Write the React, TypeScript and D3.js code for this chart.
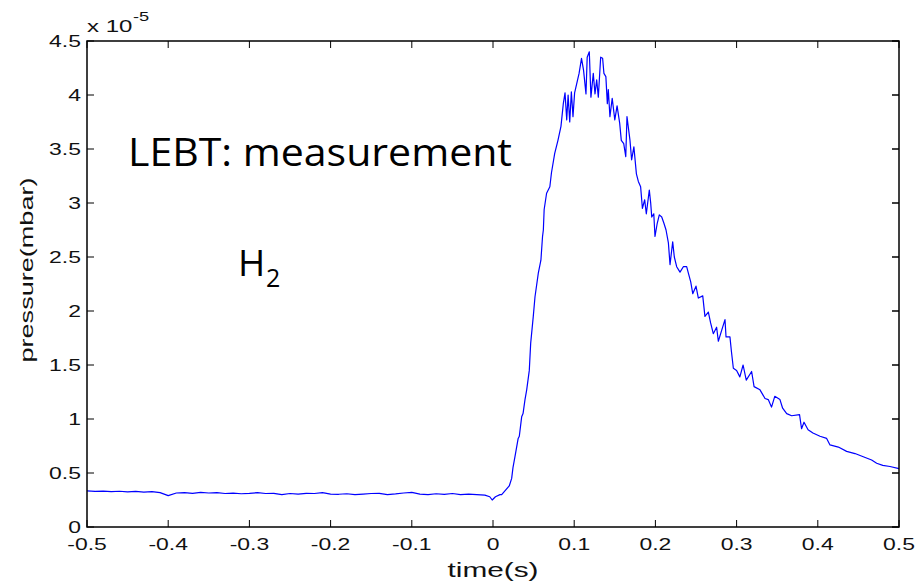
import React from "react";
import * as d3 from "d3";

// time (s) and pressure (x 1e-5 mbar)
const timeS: number[] = [
  -0.5, -0.49, -0.48, -0.47, -0.46, -0.45, -0.44, -0.43, -0.42, -0.41,
  -0.4, -0.39, -0.38, -0.37, -0.36, -0.35, -0.34, -0.33, -0.32, -0.31,
  -0.3, -0.29, -0.28, -0.27, -0.26, -0.25, -0.24, -0.23, -0.22, -0.21,
  -0.2, -0.19, -0.18, -0.17, -0.16, -0.15, -0.14, -0.13, -0.12, -0.11,
  -0.1, -0.09, -0.08, -0.07, -0.06, -0.05, -0.04, -0.03, -0.02, -0.01,
  -0.004, -0.001, 0.003, 0.0086, 0.0107, 0.02, 0.023, 0.0246, 0.027, 0.031,
  0.0324, 0.0353, 0.037, 0.0394, 0.0415, 0.0447, 0.0464, 0.0496, 0.0517, 0.0558,
  0.059, 0.061, 0.062, 0.063, 0.066, 0.07, 0.072, 0.076, 0.08, 0.0837,
  0.0866, 0.0887, 0.0908, 0.0925, 0.0945, 0.0965, 0.0985, 0.1005, 0.106, 0.109,
  0.1115, 0.1145, 0.116, 0.1186, 0.1206, 0.1235, 0.1256, 0.1277, 0.1297, 0.1326,
  0.135, 0.1366, 0.139, 0.1408, 0.142, 0.144, 0.1468, 0.15, 0.1528, 0.156,
  0.158, 0.161, 0.1635, 0.165, 0.1687, 0.1707, 0.1735, 0.1766, 0.179, 0.1818,
  0.184, 0.1868, 0.1888, 0.1925, 0.1942, 0.1955, 0.198, 0.1995, 0.2022, 0.2048,
  0.2078, 0.2106, 0.2131, 0.216, 0.218, 0.2213, 0.2233, 0.2262, 0.2303, 0.2344,
  0.2385, 0.2406, 0.2435, 0.246, 0.25, 0.2529, 0.2583, 0.261, 0.2652, 0.268,
  0.2713, 0.2754, 0.2775, 0.2816, 0.2857, 0.287, 0.2918, 0.2937, 0.296, 0.3,
  0.304, 0.308, 0.3119, 0.3185, 0.3215, 0.3288, 0.335, 0.339, 0.343, 0.347,
  0.3534, 0.3567, 0.3617, 0.3678, 0.3775, 0.38, 0.383, 0.388, 0.394, 0.4027,
  0.4109, 0.415, 0.4253, 0.4355, 0.4458, 0.456, 0.4663, 0.4725, 0.48, 0.4889,
  0.5,
];

const pressure: number[] = [
  0.335, 0.33, 0.333, 0.328, 0.331, 0.326, 0.33, 0.323, 0.327, 0.318,
  0.29, 0.315, 0.318, 0.312, 0.32, 0.315, 0.318, 0.31, 0.313, 0.308,
  0.312, 0.318, 0.31, 0.312, 0.3, 0.31, 0.305, 0.312, 0.31, 0.318,
  0.305, 0.303, 0.308, 0.3, 0.305, 0.31, 0.312, 0.3, 0.306, 0.315,
  0.32, 0.305, 0.3, 0.308, 0.302, 0.31, 0.3, 0.305, 0.3, 0.295,
  0.28, 0.25, 0.28, 0.3, 0.3, 0.38, 0.45, 0.55, 0.65, 0.82,
  0.84, 1.02, 1.05, 1.18, 1.27, 1.45, 1.7, 1.95, 2.13, 2.35,
  2.47, 2.69, 2.75, 2.94, 3.09, 3.15, 3.28, 3.46, 3.58, 3.71,
  3.92, 4.02, 3.77, 4.0, 3.75, 4.03, 3.8, 4.02, 4.2, 4.34,
  4.23, 4.01, 4.35, 4.4, 3.98, 4.2, 4.01, 4.14, 3.98, 4.35,
  4.34, 4.2, 4.17, 3.92, 4.05, 3.8, 3.97, 3.77, 3.9, 3.74,
  3.58, 3.55, 3.43, 3.8, 3.58, 3.4, 3.52, 3.27, 3.2, 3.15,
  2.95, 3.03, 2.9, 3.12, 3.0, 2.87, 2.9, 2.69, 2.81, 2.89,
  2.87, 2.81, 2.75, 2.63, 2.43, 2.64, 2.5, 2.41, 2.36, 2.41,
  2.41, 2.35, 2.27, 2.16, 2.23, 2.12, 2.14, 1.95, 1.99, 1.89,
  1.79, 1.85, 1.72, 1.82, 1.92, 1.76, 1.76, 1.62, 1.47, 1.45,
  1.39, 1.5, 1.36, 1.44, 1.3, 1.27, 1.19, 1.18, 1.11, 1.21,
  1.18, 1.1, 1.05, 1.03, 1.04, 0.91, 0.97, 0.9, 0.87, 0.84,
  0.82, 0.76, 0.74, 0.7, 0.68, 0.65, 0.62, 0.59, 0.57, 0.56,
  0.54,
];

const xTicks: number[] = [-0.5, -0.4, -0.3, -0.2, -0.1, 0, 0.1, 0.2, 0.3, 0.4, 0.5];
const yTicks: number[] = [0, 0.5, 1, 1.5, 2, 2.5, 3, 3.5, 4, 4.5];

const W = 916;
const H = 583;
const M = { left: 87, right: 899, top: 41, bottom: 527 };
const FONT = "'Liberation Sans', Arial, Helvetica, sans-serif";
const SX = 1.35;

export default function App() {
  const x = d3.scaleLinear().domain([-0.5, 0.5]).range([M.left, M.right]);
  const y = d3.scaleLinear().domain([0, 4.5]).range([M.bottom, M.top]);
  const pts: [number, number][] = timeS.map((t, i) => [t, pressure[i]]);
  const line = d3
    .line<[number, number]>()
    .x((d) => x(d[0]))
    .y((d) => y(d[1]));
  const tl = 7;
  const fmt = (v: number) => String(v);

  return (
    <svg
      width={W}
      height={H}
      style={{ position: "absolute", left: 0, top: 0, background: "#fff" }}
    >
      <rect x={0} y={0} width={W} height={H} fill="#fff" />
      {/* ticks */}
      {xTicks.map((t) => (
        <g key={"xt" + t}>
          <line x1={x(t)} x2={x(t)} y1={M.bottom} y2={M.bottom - tl} stroke="#000" strokeWidth={1} />
          <line x1={x(t)} x2={x(t)} y1={M.top} y2={M.top + tl} stroke="#000" strokeWidth={1} />
          <text
            transform={`translate(${x(t)},550) scale(${SX},1)`}
            textAnchor="middle"
            fontFamily={FONT}
            fontSize={17}
            fill="#111"
          >
            {fmt(t)}
          </text>
        </g>
      ))}
      {yTicks.map((v) => (
        <g key={"yt" + v}>
          <line x1={M.left} x2={M.left + tl} y1={y(v)} y2={y(v)} stroke="#000" strokeWidth={1} />
          <line x1={M.right} x2={M.right - tl} y1={y(v)} y2={y(v)} stroke="#000" strokeWidth={1.5} />
          <text
            transform={`translate(81,${y(v) + 6}) scale(${SX},1)`}
            textAnchor="end"
            fontFamily={FONT}
            fontSize={17}
            fill="#111"
          >
            {fmt(v)}
          </text>
        </g>
      ))}
      {/* data */}
      <path d={line(pts) || ""} fill="none" stroke="#0000ff" strokeWidth={1.2} strokeLinejoin="round" />
      {/* box */}
      <rect
        x={M.left}
        y={M.top}
        width={M.right - M.left}
        height={M.bottom - M.top}
        fill="none"
        stroke="#000"
        strokeWidth={1.5}
      />
      {/* exponent */}
      <text transform="translate(87,32) scale(1.5,1)" fontFamily={FONT} fontSize={16} fill="#111">
        x 10
      </text>
      <text transform="translate(133,21) scale(1.4,1)" fontFamily={FONT} fontSize={13} fill="#111">
        -5
      </text>
      {/* axis labels */}
      <text
        x={493}
        y={577}
        textAnchor="middle"
        fontFamily={FONT}
        fontSize={20}
        textLength={91}
        lengthAdjust="spacingAndGlyphs"
        fill="#111"
      >
        time(s)
      </text>
      <text
        transform="translate(33,270) rotate(-90)"
        textAnchor="middle"
        fontFamily={FONT}
        fontSize={19}
        textLength={185}
        lengthAdjust="spacingAndGlyphs"
        fill="#111"
      >
        pressure(mbar)
      </text>
      {/* annotations */}
      <text
        x={128}
        y={166}
        fontFamily="'Open Sans', 'Noto Sans', sans-serif"
        fontSize={38}
        textLength={384}
        lengthAdjust="spacingAndGlyphs"
        fill="#000"
      >
        LEBT: measurement
      </text>
      <text x={238} y={276} fontFamily="'Open Sans', 'Noto Sans', sans-serif" fontSize={37} fill="#000">
        H
      </text>
      <text x={266} y={287} fontFamily="'Open Sans', 'Noto Sans', sans-serif" fontSize={25} fill="#000">
        2
      </text>
    </svg>
  );
}
